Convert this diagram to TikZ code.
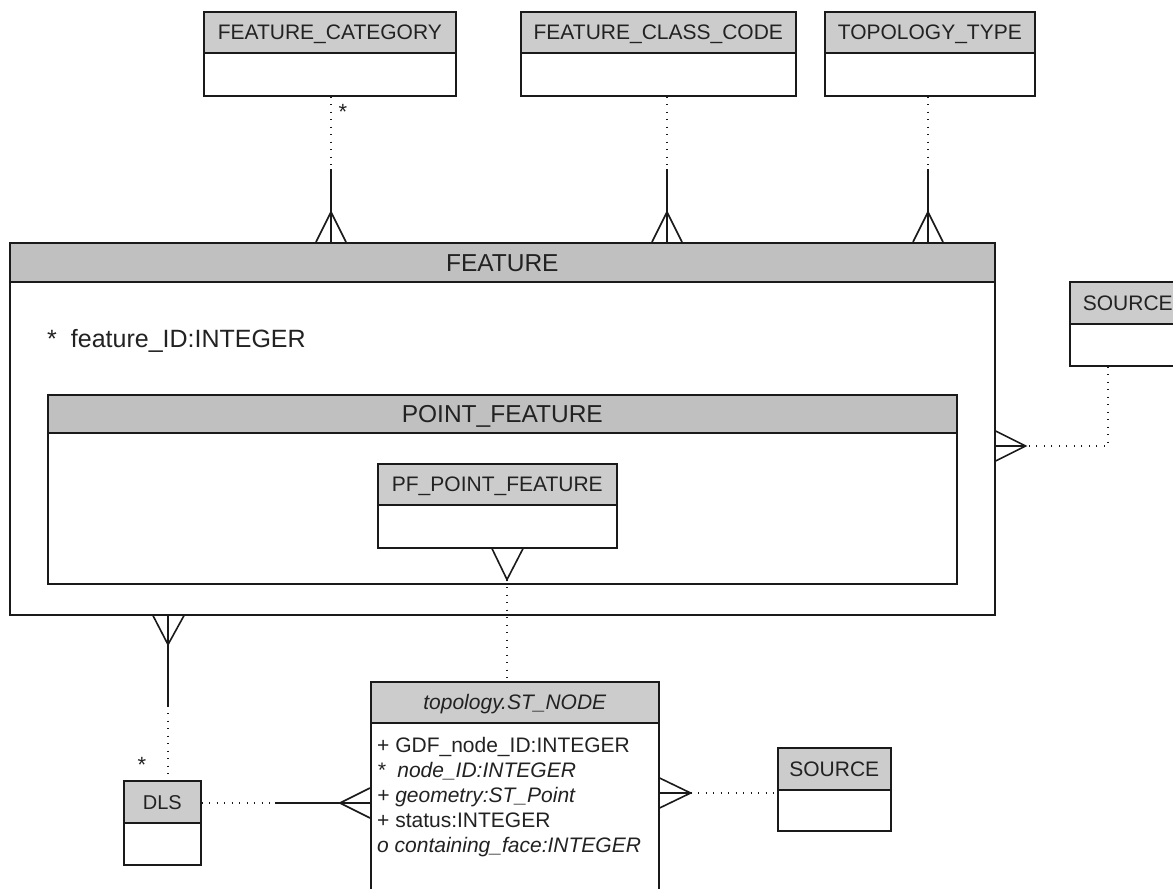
\documentclass[tikz,border=0pt]{standalone}
\usepackage{fontspec}
\setmainfont{Liberation Sans}
\usetikzlibrary{calc}
\definecolor{hdrA}{HTML}{CCCCCC}
\definecolor{hdrB}{HTML}{C0C0C0}
\definecolor{txt}{HTML}{222222}
\definecolor{edge}{HTML}{1A1A1A}
\begin{document}
\begin{tikzpicture}[x=1pt,y=-1pt,
  box/.style={draw=edge, line width=1.6pt, inner sep=0pt, anchor=north west, text=txt},
  hdr/.style={box, fill=hdrA, font=\fontsize{21}{25}\selectfont, text height=15pt, text depth=0pt},
  bighdr/.style={box, fill=hdrB, font=\fontsize{24.5}{29}\selectfont, text height=17.5pt, text depth=0pt},
  body/.style={box, fill=white},
  attr/.style={anchor=base west, inner sep=0pt, text=txt, font=\fontsize{21}{25}\selectfont},
  mult/.style={anchor=base, inner sep=0pt, text=txt, font=\fontsize{22}{26}\selectfont},
  dots/.style={draw=edge, line width=1.2pt, dash pattern=on 1.2pt off 6.3pt},
  solidline/.style={draw=edge, line width=1.6pt},
]
\useasboundingbox (0,0) rectangle (1173,889);

% FEATURE
\node[body, minimum width=985pt, minimum height=333pt] (featb) at (9,281) {};
\node[bighdr, minimum width=985pt, minimum height=39pt] (feath) at (9,242) {FEATURE};
\node[anchor=base west, inner sep=0pt, text=txt, font=\fontsize{25}{30}\selectfont] (fid) at (47,347) {*\hspace{14pt}feature\_ID:INTEGER};

% POINT_FEATURE
\node[body, minimum width=909pt, minimum height=151pt] (pfb) at (47,432) {};
\node[bighdr, minimum width=909pt, minimum height=38pt] (pfh) at (47,394) {POINT\_FEATURE};

% PF_POINT_FEATURE
\node[hdr, minimum width=239pt, minimum height=41pt] (ppfh) at (377,463) {PF\_POINT\_FEATURE};
\node[body, minimum width=239pt, minimum height=43pt] (ppfb) at (377,504) {};

% top boxes
\node[hdr, minimum width=252pt, minimum height=41pt] (fcath) at (203,11) {FEATURE\_CATEGORY};
\node[body, minimum width=252pt, minimum height=43pt] (fcatb) at (203,52) {};
\node[hdr, minimum width=275pt, minimum height=41pt] (fcch) at (520,11) {FEATURE\_CLASS\_CODE};
\node[body, minimum width=275pt, minimum height=43pt] (fccb) at (520,52) {};
\node[hdr, minimum width=210pt, minimum height=41pt] (tth) at (824,11) {TOPOLOGY\_TYPE};
\node[body, minimum width=210pt, minimum height=43pt] (ttb) at (824,52) {};

% SOURCE (right)
\node[hdr, minimum width=116pt, minimum height=42pt] (src1h) at (1069,281) {SOURCE};
\node[body, minimum width=116pt, minimum height=42pt] (src1b) at (1069,323) {};

% ST_NODE
\node[hdr, minimum width=288pt, minimum height=41pt, font=\fontsize{21}{25}\selectfont\itshape] (sth) at (370,681) {topology.ST\_NODE};
\node[body, minimum width=288pt, minimum height=220pt] (stb) at (370,722) {};
\node[attr] (a1) at (377,752) {+ GDF\_node\_ID:INTEGER};
\node[attr] (a2) at (377,777) {\itshape *\hspace{12pt}node\_ID:INTEGER};
\node[attr] (a3) at (377,802) {\itshape + geometry:ST\_Point};
\node[attr] (a4) at (377,827) {+ status:INTEGER};
\node[attr] (a5) at (377,852) {\itshape o containing\_face:INTEGER};

% DLS
\node[hdr, minimum width=77pt, minimum height=42pt, font=\fontsize{20}{24}\selectfont] (dlsh) at (123,780) {DLS};
\node[body, minimum width=77pt, minimum height=42pt] (dlsb) at (123,822) {};

% SOURCE (bottom)
\node[hdr, minimum width=113pt, minimum height=42pt] (src2h) at (777,747) {SOURCE};
\node[body, minimum width=113pt, minimum height=41pt] (src2b) at (777,789) {};

% FEATURE_CATEGORY -> FEATURE
\coordinate (c1) at (feath.north -| 331,0);
\draw[dots] (fcatb.south -| c1) -- ($(c1)+(0,-73)$);
\draw[solidline] ($(c1)+(0,-73)$) -- (c1);
\draw[solidline] ($(c1)+(-15,0)$) -- ($(c1)+(0,-30)$) -- ($(c1)+(15,0)$);
\node[mult] (m1) at (343,119) {*};

% FEATURE_CLASS_CODE -> FEATURE
\coordinate (c2) at (feath.north -| 667,0);
\draw[dots] (fccb.south -| c2) -- ($(c2)+(0,-73)$);
\draw[solidline] ($(c2)+(0,-73)$) -- (c2);
\draw[solidline] ($(c2)+(-15,0)$) -- ($(c2)+(0,-30)$) -- ($(c2)+(15,0)$);

% TOPOLOGY_TYPE -> FEATURE
\coordinate (c3) at (feath.north -| 928,0);
\draw[dots] (ttb.south -| c3) -- ($(c3)+(0,-73)$);
\draw[solidline] ($(c3)+(0,-73)$) -- (c3);
\draw[solidline] ($(c3)+(-15,0)$) -- ($(c3)+(0,-30)$) -- ($(c3)+(15,0)$);

% SOURCE -> FEATURE
\coordinate (c4) at (featb.east |- 0,446);
\coordinate (k4) at (src1b.south -| 1108,0);
\draw[dots] (k4) -- (k4 |- c4) -- ($(c4)+(30,0)$);
\draw[solidline] (c4) -- ($(c4)+(30,0)$);
\draw[solidline] ($(c4)+(0,-15)$) -- ($(c4)+(30,0)$) -- ($(c4)+(0,15)$);

% PF_POINT_FEATURE -> ST_NODE
\coordinate (c5) at (ppfb.south -| 507,0);
\draw[solidline] ($(c5)+(-15,0)$) -- ($(c5)+(0,31)$) -- ($(c5)+(16,0)$);
\draw[dots] ($(c5)+(0,31)$) -- (sth.north -| c5);

% FEATURE -> DLS
\coordinate (c6) at (featb.south -| 168,0);
\draw[solidline] (c6) -- ($(c6)+(0,90)$);
\draw[solidline] ($(c6)+(-15,0)$) -- ($(c6)+(0,29)$) -- ($(c6)+(16,0)$);
\draw[dots] ($(c6)+(0,90)$) -- (dlsh.north -| c6);
\node[mult] (m2) at (142,772) {*};

% DLS -> ST_NODE
\coordinate (c7) at (stb.west |- 0,803);
\draw[dots] (dlsh.east |- c7) -- ($(c7)+(-95,0)$);
\draw[solidline] ($(c7)+(-95,0)$) -- (c7);
\draw[solidline] ($(c7)+(0,-15)$) -- ($(c7)+(-30,0)$) -- ($(c7)+(0,15)$);

% ST_NODE -> SOURCE
\coordinate (c8) at (stb.east |- 0,793);
\draw[solidline] (c8) -- ($(c8)+(31,0)$);
\draw[solidline] ($(c8)+(0,-15)$) -- ($(c8)+(31,0)$) -- ($(c8)+(0,15)$);
\draw[dots] ($(c8)+(31,0)$) -- (src2h.west |- c8);
\end{tikzpicture}
\end{document}
